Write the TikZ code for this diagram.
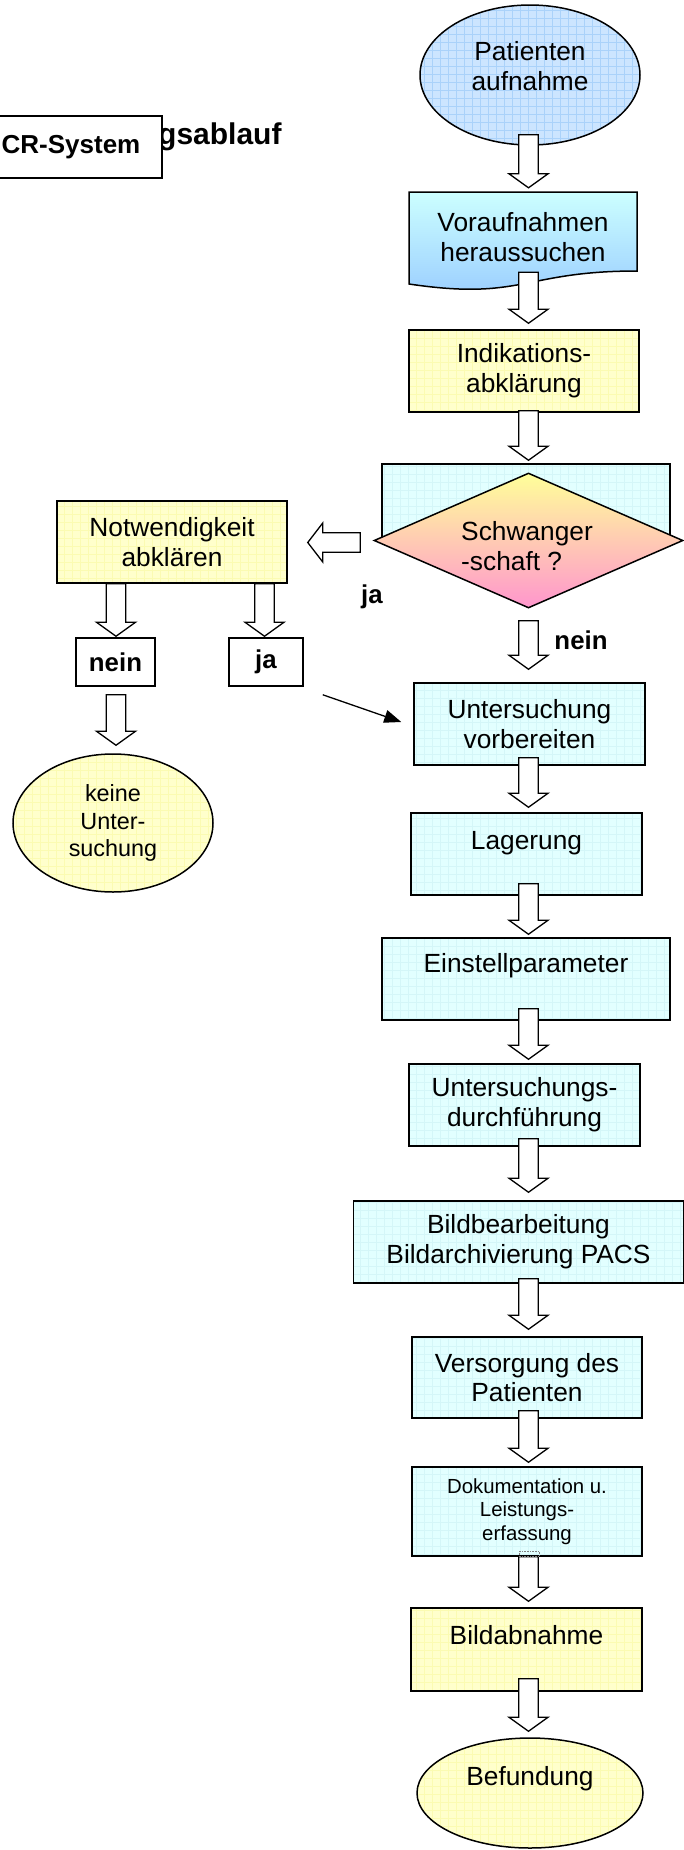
\documentclass[tikz,border=0pt]{standalone}
\usepackage{fontspec}
\setmainfont{Liberation Sans}
\usetikzlibrary{shapes.geometric,patterns.meta,calc,arrows.meta}
\definecolor{cyanbg}{RGB}{226,255,255}
\definecolor{cyangrid}{RGB}{212,246,248}
\definecolor{yelbg}{RGB}{255,255,204}
\definecolor{yelgrid}{RGB}{251,251,178}
\definecolor{bluebg}{RGB}{204,229,255}
\definecolor{bluegrid}{RGB}{170,210,250}
\definecolor{docTop}{RGB}{204,255,255}
\definecolor{docBot}{RGB}{153,204,255}
\definecolor{diaTop}{RGB}{255,255,153}
\definecolor{diaBot}{RGB}{255,150,205}
\newcommand\fBody{\fontsize{26.3}{29.8}\selectfont}
\newcommand\fSmall{\fontsize{23.4}{27.5}\selectfont}
\newcommand\fTiny{\fontsize{20.4}{23.5}\selectfont}
\newcommand\fBold{\fontsize{25.8}{29}\selectfont\bfseries}
\newcommand\fTitle{\fontsize{30}{34}\selectfont\bfseries}
\newcommand\varr[5]{\draw[barr] let \p1=($(#1 |- #2)+(0,#3)$), \p2=($(#1 |- #4)+(0,#5)$) in
 (\x1-9.75pt,\y1) -- (\x1+9.75pt,\y1) -- (\x1+9.75pt,\y2+14pt) -- (\x1+19.5pt,\y2+14pt) -- (\x1,\y2) -- (\x1-19.5pt,\y2+14pt) -- (\x1-9.75pt,\y2+14pt) -- cycle;}
\newcommand\harr[4]{\draw[barr] let \p1=($(#1)+(#2)$), \p2=($(#3)+(#4)$) in
 (\x1,\y1+9.75pt) -- (\x1,\y1-9.75pt) -- (\x2+15pt,\y1-9.75pt) -- (\x2+15pt,\y1-19.5pt) -- (\x2,\y1) -- (\x2+15pt,\y1+19.5pt) -- (\x2+15pt,\y1+9.75pt) -- cycle;}
\tikzset{
 shp/.style={draw=black, line width=1.5pt, inner sep=0pt, align=center, font=\fBody},
 cbox/.style={shp, rectangle, preaction={fill=cyanbg}, preaction={pattern color=cyangrid, pattern={Hatch[distance=8pt,angle=0,line width=0.5pt]}}},
 ybox/.style={shp, preaction={fill=yelbg}, preaction={pattern color=yelgrid, pattern={Hatch[distance=8pt,angle=0,line width=0.5pt]}}},
 bbox/.style={shp, preaction={fill=bluebg}, preaction={pattern color=bluegrid, pattern={Hatch[distance=8pt,angle=0,line width=0.6pt]}}},
 wbox/.style={shp, fill=white, font=\fBold},
 txt/.style={inner sep=0pt, align=center, font=\fBody},
 lab/.style={inner sep=0pt, font=\fBold},
 barr/.style={draw=black, fill=white, line width=1.3pt, line join=miter},
 thinarr/.style={draw=black, line width=1.3pt, -{Triangle[length=17pt,width=13pt]}},
}
\begin{document}
\begin{tikzpicture}[x=1pt,y=-1pt]
\useasboundingbox (0,0) rectangle (684,1850);
\coordinate (col) at (528.5,0);
\coordinate (colL) at (116,0);
\coordinate (colR) at (264.5,0);
% title
\node[anchor=base west, inner sep=0pt, font=\fTitle] (ttl) at (158,144) {gsablauf};
\node[shp, fill=white, font=\fontsize{26}{30}\selectfont\bfseries, minimum width=182pt, minimum height=62pt] (crs) at (71,147) {CR-System};
% main column
\node[bbox, ellipse, minimum width=220pt, minimum height=140pt] (pat) at (530,75) {};
\node[txt] (patt) at (530,66) {Patienten\\aufnahme};
\draw[line width=1.5pt, top color=docTop, bottom color=docBot] (409,192) -- (637,192) -- (637,271) .. controls (523,271) and (523,301) .. (409,284) -- cycle;
\node[txt, minimum width=228pt, minimum height=88pt] (vor) at (523,237) {Voraufnahmen\\heraussuchen};
\node[ybox, minimum width=230pt, minimum height=82pt] (ind) at (524,371) {Indikations-\\abklärung};
\node[cbox, minimum width=288pt, minimum height=76pt] (drect) at (526,502) {};
\node[shp, diamond, aspect=2.29, minimum width=309pt, minimum height=135pt, top color=diaTop, bottom color=diaBot] (dia) at (528.5,540.5) {};
\node[txt, align=left] (diat) at (527,546) {Schwanger\\-schaft ?};
\node[lab] (jal) at (372,597) {ja};
\node[lab] (neinl) at (581,640) {nein};
\node[cbox, minimum width=231pt, minimum height=82pt] (unt) at (529.5,724) {Untersuchung\\vorbereiten};
\node[cbox, minimum width=231pt, minimum height=82pt] (lag) at (526.5,854) {};
\node[txt] (lagt) at (526.5,843) {Lagerung};
\node[cbox, minimum width=288pt, minimum height=82pt] (ein) at (526,979) {};
\node[txt] (eint) at (526,966) {Einstellparameter};
\node[cbox, minimum width=231pt, minimum height=82pt] (dur) at (524.5,1105) {Untersuchungs-\\durchführung};
\node[cbox, minimum width=330pt, minimum height=82pt] (bild) at (518.5,1242) {Bildbearbeitung\\Bildarchivierung PACS};
\node[cbox, minimum width=230pt, minimum height=81pt] (vers) at (527,1377.5) {Versorgung des\\Patienten};
\node[cbox, minimum width=230pt, minimum height=89pt, font=\fTiny] (dok) at (527,1511.5) {Dokumentation u.\\Leistungs-\\erfassung};
\node[ybox, minimum width=231pt, minimum height=83pt] (abn) at (526.5,1649.5) {};
\node[txt] (abnt) at (526.5,1635) {Bildabnahme};
\node[ybox, ellipse, minimum width=226pt, minimum height=110pt] (bef) at (530,1793) {};
\node[txt] (beft) at (530,1779) {Befundung};
% left branch
\node[ybox, minimum width=230pt, minimum height=82pt] (notw) at (172,542) {Notwendigkeit\\abklären};
\node[wbox, minimum width=79pt, minimum height=48pt] (neinb) at (115.5,662) {nein};
\node[wbox, minimum width=74pt, minimum height=48pt] (jab) at (266,662) {ja};
\node[ybox, ellipse, minimum width=200pt, minimum height=138pt, font=\fSmall] (keine) at (113,823) {keine\\Unter-\\suchung};
% block arrows
\varr{col}{pat.south}{-11}{vor.north}{-5}
\varr{col}{vor.south}{-9}{ind.north}{-6}
\varr{col}{ind.south}{-2}{drect.north}{-3}
\varr{col}{dia.south}{12}{unt.north}{-13}
\varr{col}{unt.south}{-8}{lag.north}{-5}
\varr{col}{lag.south}{-12}{ein.north}{-3}
\varr{col}{ein.south}{-12}{dur.north}{-4}
\varr{col}{dur.south}{-8}{bild.north}{-8}
\varr{col}{bild.south}{-5}{vers.north}{-7}
\varr{col}{vers.south}{-8}{dok.north}{-4}
\varr{col}{dok.south}{0}{abn.north}{-6}
\draw[densely dotted, draw=gray, line width=0.6pt] (519,1551) rectangle (539,1556);
\varr{col}{abn.south}{-13}{bef.north}{-6}
\varr{colL}{notw.south}{0}{neinb.north}{-1}
\varr{colR}{notw.south}{0}{jab.north}{-1}
\varr{colL}{neinb.south}{8}{keine.north}{-8}
\harr{dia.west}{-13,2}{notw.east}{20,0}
\draw[thinarr] ($(jab.south east)+(19,8)$) -- ($(unt.west)+(-12,-2)$);
\end{tikzpicture}
\end{document}
